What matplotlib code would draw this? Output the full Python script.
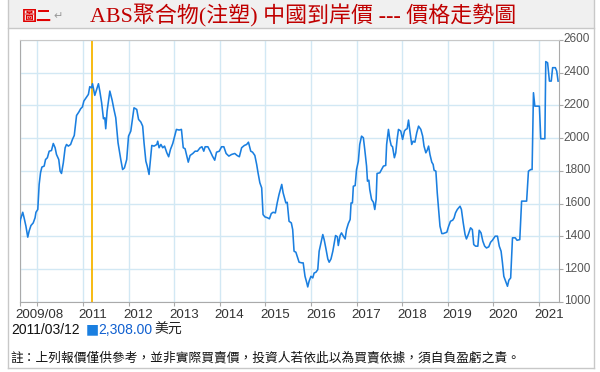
import matplotlib
matplotlib.use('Agg')
import matplotlib.pyplot as plt
import matplotlib.transforms as mtransforms
from matplotlib.lines import Line2D
from matplotlib.patches import Rectangle

W, H = 600, 372
CJK = ['Noto Sans CJK TC', 'DejaVu Sans']
LATIN = ['Liberation Sans', 'DejaVu Sans']

TITLE_TAG = '圖二'
TITLE = 'ABS聚合物(注塑) 中國到岸價 --- 價格走勢圖'
NOTE = '註：上列報價僅供參考，並非實際買賣價，投資人若依此以為買賣依據，須自負盈虧之責。'

# decimal year, price (USD)
years = [
    2009.60, 2009.63, 2009.68, 2009.71, 2009.75, 2009.79, 2009.82, 2009.86, 2009.91, 2009.95,
    2009.97, 2010.01, 2010.04, 2010.07, 2010.10, 2010.15, 2010.18, 2010.22, 2010.26, 2010.31,
    2010.35, 2010.39, 2010.42, 2010.47, 2010.50, 2010.53, 2010.57, 2010.61, 2010.64, 2010.68,
    2010.73, 2010.77, 2010.81, 2010.86, 2010.91, 2010.95, 2010.99, 2011.02, 2011.07, 2011.12,
    2011.15, 2011.19, 2011.21, 2011.26, 2011.30, 2011.34, 2011.37, 2011.41, 2011.45, 2011.48,
    2011.50, 2011.53, 2011.59, 2011.64, 2011.68, 2011.72, 2011.77, 2011.83, 2011.87, 2011.91,
    2011.96, 2012.00, 2012.05, 2012.09, 2012.12, 2012.18, 2012.22, 2012.27, 2012.31, 2012.34,
    2012.38, 2012.41, 2012.45, 2012.48, 2012.51, 2012.56, 2012.62, 2012.64, 2012.67, 2012.71,
    2012.75, 2012.79, 2012.84, 2012.88, 2012.92, 2012.97, 2013.02, 2013.05, 2013.11, 2013.16,
    2013.20, 2013.24, 2013.27, 2013.31, 2013.35, 2013.41, 2013.46, 2013.51, 2013.57, 2013.61,
    2013.65, 2013.68, 2013.74, 2013.79, 2013.84, 2013.89, 2013.93, 2013.99, 2014.04, 2014.09,
    2014.14, 2014.20, 2014.26, 2014.33, 2014.38, 2014.43, 2014.48, 2014.54, 2014.59, 2014.63,
    2014.68, 2014.72, 2014.77, 2014.81, 2014.84, 2014.88, 2014.92, 2014.95, 2014.99, 2015.05,
    2015.09, 2015.13, 2015.17, 2015.22, 2015.26, 2015.30, 2015.36, 2015.39, 2015.45, 2015.48,
    2015.52, 2015.57, 2015.60, 2015.63, 2015.67, 2015.71, 2015.74, 2015.80, 2015.83, 2015.87,
    2015.91, 2015.93, 2015.96, 2016.00, 2016.04, 2016.07, 2016.11, 2016.15, 2016.18, 2016.22,
    2016.26, 2016.29, 2016.33, 2016.37, 2016.40, 2016.44, 2016.48, 2016.51, 2016.54, 2016.58,
    2016.60, 2016.64, 2016.67, 2016.71, 2016.75, 2016.78, 2016.82, 2016.86, 2016.88, 2016.91,
    2016.93, 2016.97, 2017.00, 2017.04, 2017.07, 2017.11, 2017.15, 2017.18, 2017.22, 2017.24,
    2017.27, 2017.29, 2017.33, 2017.37, 2017.40, 2017.43, 2017.45, 2017.51, 2017.55, 2017.59,
    2017.64, 2017.66, 2017.70, 2017.73, 2017.76, 2017.79, 2017.83, 2017.86, 2017.89, 2017.92,
    2017.97, 2018.01, 2018.05, 2018.08, 2018.11, 2018.14, 2018.17, 2018.21, 2018.24, 2018.28,
    2018.32, 2018.36, 2018.41, 2018.45, 2018.48, 2018.52, 2018.55, 2018.58, 2018.61, 2018.65,
    2018.68, 2018.70, 2018.74, 2018.77, 2018.80, 2018.83, 2018.87, 2018.90, 2018.98, 2019.02,
    2019.06, 2019.11, 2019.14, 2019.17, 2019.21, 2019.27, 2019.30, 2019.34, 2019.38, 2019.41,
    2019.45, 2019.50, 2019.54, 2019.57, 2019.61, 2019.66, 2019.69, 2019.73, 2019.77, 2019.81,
    2019.85, 2019.90, 2019.94, 2019.98, 2020.04, 2020.09, 2020.13, 2020.17, 2020.20, 2020.23,
    2020.27, 2020.31, 2020.34, 2020.38, 2020.42, 2020.48, 2020.52, 2020.58, 2020.62, 2020.67,
    2020.73, 2020.77, 2020.82, 2020.85, 2020.88, 2020.91, 2020.95, 2021.01, 2021.04, 2021.08,
    2021.13, 2021.15, 2021.19, 2021.23, 2021.27, 2021.30, 2021.36, 2021.39, 2021.42,
]
prices = [
    1422, 1503, 1548, 1514, 1463, 1396, 1433, 1467, 1483, 1514,
    1548, 1565, 1718, 1789, 1824, 1830, 1870, 1881, 1921, 1925,
    1968, 1942, 1901, 1870, 1799, 1785, 1850, 1942, 1962, 1952,
    1962, 1993, 2017, 2139, 2160, 2180, 2192, 2227, 2247, 2268,
    2315, 2308, 2333, 2262, 2298, 2333, 2288, 2217, 2119, 2125,
    2058, 2166, 2288, 2233, 2176, 2125, 1972, 1870, 1809, 1819,
    1870, 2013, 2044, 2125, 2186, 2176, 2115, 2099, 2074, 1972,
    1860, 1830, 1779, 1870, 1956, 1952, 1962, 1982, 1942, 1962,
    1942, 1952, 1911, 1887, 1932, 1968, 2023, 2054, 2050, 2054,
    1942, 1936, 1901, 1854, 1895, 1907, 1921, 1921, 1942, 1948,
    1921, 1948, 1948, 1921, 1891, 1866, 1915, 1921, 1948, 1948,
    1907, 1891, 1901, 1907, 1895, 1887, 1942, 1956, 1962, 1976,
    1921, 1915, 1895, 1840, 1789, 1728, 1697, 1534, 1520, 1514,
    1508, 1540, 1548, 1544, 1605, 1656, 1718, 1667, 1605, 1609,
    1493, 1483, 1442, 1310, 1304, 1269, 1243, 1239, 1239, 1157,
    1116, 1092, 1127, 1157, 1147, 1177, 1182, 1198, 1310, 1361,
    1412, 1381, 1324, 1263, 1243, 1263, 1310, 1357, 1406, 1398,
    1345, 1406, 1422, 1402, 1385, 1442, 1479, 1504, 1605, 1605,
    1707, 1711, 1809, 1860, 1962, 2013, 2003, 1932, 1830, 1738,
    1744, 1687, 1626, 1609, 1565, 1626, 1785, 1789, 1809, 1830,
    1834, 1962, 2054, 1993, 1956, 1948, 1881, 1911, 1993, 2054,
    2044, 1993, 2044, 2054, 2058, 2111, 2044, 1962, 1982, 1976,
    2033, 2074, 2054, 2013, 1952, 1911, 1927, 1952, 1901, 1854,
    1840, 1805, 1799, 1667, 1565, 1463, 1418, 1418, 1426, 1463,
    1493, 1500, 1514, 1544, 1565, 1585, 1565, 1483, 1412, 1385,
    1412, 1453, 1442, 1351, 1341, 1341, 1438, 1422, 1371, 1341,
    1330, 1337, 1365, 1377, 1402, 1402, 1341, 1310, 1239, 1157,
    1127, 1096, 1133, 1147, 1392, 1392, 1377, 1381, 1616, 1616,
    1616, 1799, 1809, 1809, 2278, 2196, 2196, 2196, 1997, 1997,
    1997, 2468, 2461, 2349, 2349, 2431, 2431, 2410, 2349,
]

x_ticks = [2009.62, 2010, 2011, 2012, 2013, 2014, 2015, 2016, 2017, 2018, 2019, 2020, 2021]
x_labels = ['2009/08', '', '2011', '2012', '2013', '2014', '2015', '2016', '2017',
            '2018', '2019', '2020', '2021']
y_ticks = [1000, 1200, 1400, 1600, 1800, 2000, 2200, 2400, 2600]

MARK_DATE = 2011.19
MARK_LABEL = '2011/03/12'
MARK_VALUE = '2,308.00'
UNIT = '美元'


def fx(px):
    return px / W


def fy(py):
    return 1 - py / H


def main() -> None:
    fig = plt.figure(figsize=(W / 100, H / 100), dpi=100)
    fig.patch.set_facecolor('white')

    # frame and title bar
    fig.add_artist(Rectangle((fx(7.5), fy(28)), fx(594) - fx(7.5), 28 / H,
                             transform=fig.transFigure, facecolor='#f0f0f0', edgecolor='none'))
    frame_kw = dict(transform=fig.transFigure, color='#c8c8c8', lw=1)
    fig.add_artist(Line2D([fx(7.5), fx(7.5)], [fy(0), fy(368)], **frame_kw))
    fig.add_artist(Line2D([fx(594), fx(594)], [fy(0), fy(368)], **frame_kw))
    fig.add_artist(Line2D([fx(7.5), fx(594)], [fy(368), fy(368)], **frame_kw))
    fig.add_artist(Line2D([fx(7.5), fx(594)], [fy(28), fy(28)], **frame_kw))

    fig.text(fx(22), fy(16), TITLE_TAG, color='#e00000', fontsize=10.8, fontweight='bold',
             family=CJK, va='center')
    fig.text(fx(53), fy(16), '↵', color='#999999', fontsize=8, family='DejaVu Sans', va='center')
    fig.text(fx(90), fy(16), TITLE, color='#c00000', fontsize=15.8,
             family=['Liberation Serif', 'Noto Sans CJK TC'], va='center')

    ax = fig.add_axes([fx(20), fy(302), (559 - 20) / W, (302 - 40) / H])
    ax.set_axisbelow(True)
    ax.plot(years, prices, color='#1a7fe0', lw=1.15, zorder=3)
    ax.axvline(MARK_DATE, color='#f7b500', lw=1.3, zorder=2)

    ax.set_xlim(2009.62, 2021.44)
    ax.set_ylim(1000, 2600)
    ax.set_xticks(x_ticks)
    ax.set_xticklabels(x_labels)
    ax.set_yticks(y_ticks)
    ax.yaxis.tick_right()
    ax.grid(color='#d2e8f4', lw=1.0)

    for side in ['left', 'bottom', 'right']:
        ax.spines[side].set_color('#aaaaaa')
    ax.spines['top'].set_color('#c8c8c8')

    ax.tick_params(axis='x', length=3, color='#aaaaaa', labelsize=9.6, labelcolor='#333333', pad=2.2)
    ax.tick_params(axis='y', length=3, color='#aaaaaa', labelsize=8.5, labelcolor='#555555', pad=0.5)
    shift_x = mtransforms.ScaledTranslation(-5 / 100, 0, fig.dpi_scale_trans)
    for lab in ax.get_xticklabels():
        lab.set_horizontalalignment('left')
        lab.set_fontfamily(LATIN)
        lab.set_transform(lab.get_transform() + shift_x)
    shift_y = mtransforms.ScaledTranslation(0, 2 / 100, fig.dpi_scale_trans)
    for lab in ax.get_yticklabels():
        lab.set_fontfamily(LATIN)
        lab.set_transform(lab.get_transform() + shift_y)

    # readout line under the axis
    fig.text(fx(11.5), fy(329.5), MARK_LABEL, fontsize=10, family=LATIN, color='#111111', va='center')
    fig.text(fx(86), fy(329.5), '■', fontsize=10, family='DejaVu Sans', color='#1a7fe0', va='center')
    fig.text(fx(98), fy(329.5), MARK_VALUE, fontsize=10, family=LATIN, color='#1060d0', va='center')
    fig.text(fx(154), fy(329.5), UNIT, fontsize=10, family=CJK, color='#222222', va='center')

    fig.text(fx(10), fy(358), NOTE, fontsize=9.15, family=CJK, color='#111111', va='center')

    fig.savefig('out.png', dpi=100)
    plt.close(fig)


if __name__ == '__main__':
    main()
